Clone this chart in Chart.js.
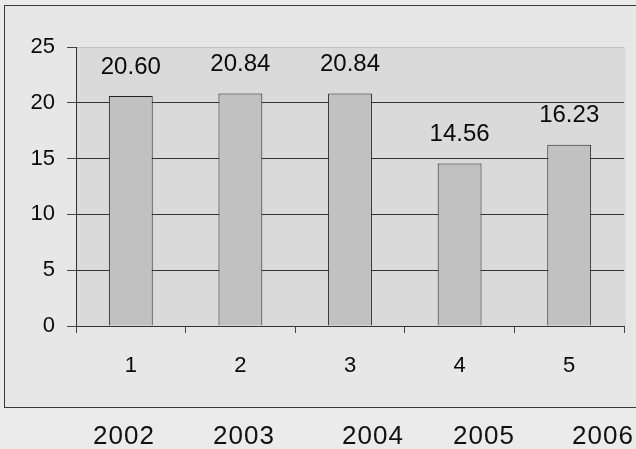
<!DOCTYPE html>
<html>
<head>
<meta charset="utf-8">
<script src="https://cdn.jsdelivr.net/npm/chart.js@4/dist/chart.umd.min.js"></script>
<style>
  html, body { margin: 0; padding: 0; background: #ebebeb; width: 636px; height: 449px; overflow: hidden; }
  #box { position: absolute; left: 4px; top: 5px; width: 640px; height: 401px; border: 1px solid #3a3a3a; border-right: none; background: #e7e7e7; }
  #wrap { position: absolute; left: 0; top: 0; width: 636px; height: 449px; }
  .yr { position: absolute; top: 420px; font-family: "Liberation Sans", Arial, sans-serif; font-size: 26px; color: #111; transform: translateX(-50%); letter-spacing: 1px; line-height: 30px; }
</style>
</head>
<body>
<div id="box"></div>
<div id="wrap"><canvas id="c" width="636" height="449"></canvas></div>
<div id="years"></div>
<script>
const categories = ["1", "2", "3", "4", "5"];
const values = [20.60, 20.84, 20.84, 14.56, 16.23];
const years = ["2002", "2003", "2004", "2005", "2006"];
const yTicks = [0, 5, 10, 15, 20, 25];

// year captions below the chart box (as in the scanned original)
const yearX = [124, 244, 373, 484, 603];
const yc = document.getElementById('years');
years.forEach((y, i) => {
  const s = document.createElement('span');
  s.className = 'yr';
  s.textContent = y;
  s.style.left = yearX[i] + 'px';
  yc.appendChild(s);
});

const plotBg = {
  id: 'plotBg',
  beforeDraw(chart) {
    const { ctx, chartArea: a } = chart;
    ctx.save();
    ctx.fillStyle = '#dadada';
    ctx.fillRect(a.left, a.top, a.right - a.left + 2, a.bottom - a.top);
    ctx.restore();
  }
};

const valueLabels = {
  id: 'valueLabels',
  afterDatasetsDraw(chart) {
    const { ctx } = chart;
    const meta = chart.getDatasetMeta(0);
    ctx.save();
    ctx.font = '24px "Liberation Sans", Arial, sans-serif';
    ctx.fillStyle = '#0a0a0a';
    ctx.textAlign = 'center';
    ctx.textBaseline = 'bottom';
    meta.data.forEach((bar, i) => {
      ctx.fillText(values[i].toFixed(2), bar.x, bar.y - 17);
    });
    ctx.restore();
  }
};

new Chart(document.getElementById('c'), {
  type: 'bar',
  data: {
    labels: categories,
    datasets: [{
      data: values,
      backgroundColor: '#c1c1c1',
      borderColor: '#222',
      borderWidth: 1,
      barPercentage: 0.8,
      categoryPercentage: 0.5
    }]
  },
  options: {
    responsive: false,
    animation: false,
    layout: { padding: { left: 0, top: 47, right: 12, bottom: 63 } },
    plugins: { legend: { display: false }, tooltip: { enabled: false } },
    scales: {
      x: {
        grid: { display: true, drawOnChartArea: false, offset: true, color: '#444', tickLength: 7, tickColor: '#444' },
        border: { display: true, color: '#333', width: 1 },
        ticks: { color: '#0a0a0a', font: { family: '"Liberation Sans", Arial, sans-serif', size: 22 }, padding: 20 },
        afterFit(scale) { scale.height = 60; }
      },
      y: {
        min: 0, max: 25,
        afterBuildTicks(scale) { scale.ticks = yTicks.map(v => ({ value: v })); },
        grid: {
          color: (c) => c.tick && c.tick.value === 25 ? 'rgba(120,120,120,0.25)' : '#333',
          tickColor: '#444',
          tickLength: 9,
          lineWidth: 1
        },
        border: { display: true, color: '#333', width: 1 },
        ticks: { color: '#0a0a0a', font: { family: '"Liberation Sans", Arial, sans-serif', size: 22 }, padding: 12 },
        afterFit(scale) { scale.width = 76; }
      }
    }
  },
  plugins: [plotBg, valueLabels]
});
</script>
</body>
</html>
